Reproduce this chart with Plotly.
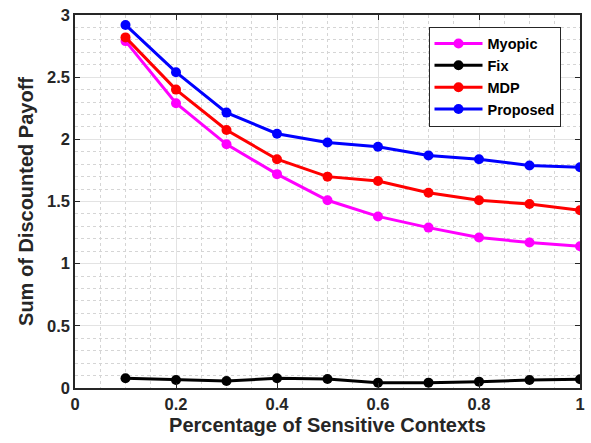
import plotly.graph_objects as go

x = [0.1, 0.2, 0.3, 0.4, 0.5, 0.6, 0.7, 0.8, 0.9, 1.0]
myopic = [2.79, 2.29, 1.96, 1.72, 1.51, 1.38, 1.29, 1.21, 1.17, 1.14]
fix = [0.078, 0.064, 0.056, 0.078, 0.072, 0.043, 0.043, 0.051, 0.064, 0.070]
mdp = [2.82, 2.40, 2.075, 1.84, 1.70, 1.665, 1.57, 1.51, 1.48, 1.43]
proposed = [2.92, 2.54, 2.215, 2.045, 1.975, 1.94, 1.87, 1.84, 1.79, 1.775]

series = [("Myopic", myopic, "#FF00FF"), ("Fix", fix, "#000000"),
          ("MDP", mdp, "#FF0000"), ("Proposed", proposed, "#0000FF")]

x_ticks = [0, 0.2, 0.4, 0.6, 0.8, 1]
x_tick_labels = ["0", "0.2", "0.4", "0.6", "0.8", "1"]
y_ticks = [0, 0.5, 1, 1.5, 2, 2.5, 3]
y_tick_labels = ["0", "0.5", "1", "1.5", "2", "2.5", "3"]

fig = go.Figure()
for name, y, c in series:
    fig.add_trace(go.Scatter(x=x, y=y, name=name, mode="lines+markers",
                             line=dict(color=c, width=3),
                             marker=dict(color=c, size=10)))

FAM = "Liberation Sans, Arial, sans-serif"
axis_common = dict(
    showline=True, linecolor="#262626", linewidth=1.5, mirror="ticks",
    ticks="inside", ticklen=5, tickcolor="#262626", tickwidth=1,
    showgrid=True, gridcolor="#e3e3e3", gridwidth=1.2,
    zeroline=False,
    tickfont=dict(family=FAM, size=16.5, color="#262626", weight="bold"),
)

fig.update_xaxes(**axis_common, range=[0, 1], tickvals=x_ticks, ticktext=x_tick_labels,
                 minor=dict(dtick=0.05, showgrid=True, gridcolor="#d5d5d5", griddash="dot", gridwidth=1, ticks=""),
                 title=dict(text="<b>Percentage of Sensitive Contexts</b>",
                            font=dict(family=FAM, size=20, color="#262626"),
                            standoff=6))
fig.update_yaxes(**axis_common, range=[0, 3], tickvals=y_ticks, ticktext=y_tick_labels,
                 minor=dict(dtick=0.1, showgrid=True, gridcolor="#d5d5d5", griddash="dot", gridwidth=1, ticks=""),
                 title=dict(text="<b>Sum of Discounted Payoff</b>",
                            font=dict(family=FAM, size=20, color="#262626"),
                            standoff=8))

fig.update_layout(
    width=591, height=443,
    margin=dict(l=75, r=6, t=15, b=55),
    plot_bgcolor="white", paper_bgcolor="white",
    font=dict(family=FAM, color="#262626"),
    legend=dict(x=0.700, y=0.969, xanchor="left", yanchor="top",
                bgcolor="white", bordercolor="#262626", borderwidth=1,
                font=dict(family=FAM, size=14.5, color="#000000", weight="bold"),
                tracegroupgap=0, itemwidth=48),
    showlegend=True,
)

fig.write_html("out.html")
